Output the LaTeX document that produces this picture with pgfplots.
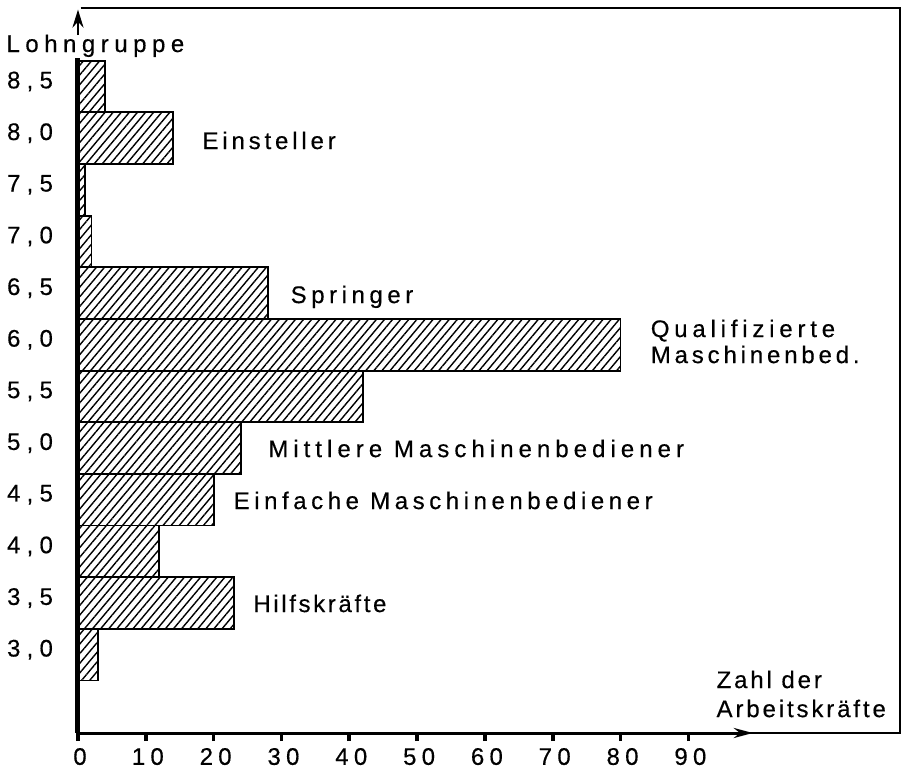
\documentclass[border=0pt]{standalone}
\usepackage{fontspec}
\setmainfont{Liberation Sans}[FakeBold=0.4]
\usepackage{pgfplots}
\pgfplotsset{compat=1.18}
\usetikzlibrary{patterns.meta,arrows.meta}
\newcommand\LS[2]{{\addfontfeature{LetterSpace=#1}#2}}
\begin{document}
\begin{tikzpicture}
\begin{axis}[
  width=411pt, height=362.5pt, scale only axis,
  xmin=0, xmax=121.2, ymin=2.242, ymax=9.26,
  axis x line*=bottom, axis y line*=left,
  axis line style={draw=none},
  clip=false,
  xtick={0,10,20,30,40,50,60,70,80,90},
  xticklabels={0,10,20,30,40,50,60,70,80,90},
  ytick={3,3.5,4,4.5,5,5.5,6,6.5,7,7.5,8,8.5},
  yticklabels={{3,0},{3,5},{4,0},{4,5},{5,0},{5,5},{6,0},{6,5},{7,0},{7,5},{8,0},{8,5}},
  xticklabel style={font=\fontsize{12}{14}\selectfont\addfontfeature{LetterSpace=22}, yshift=0pt, xshift=1pt},
  yticklabel style={font=\fontsize{12}{14}\selectfont\addfontfeature{LetterSpace=26}, yshift=2.5pt, xshift=-5pt},
  x tick style={line width=1.8pt, black},
  y tick style={draw=none},
  major tick length=4pt, tick align=outside,
  /pgf/number format/assume math mode=true,
]
\addplot[xbar, bar width=0.5, bar shift=0pt, draw=black, line width=0.9pt,
  pattern={Lines[angle=50,distance=3.1pt,line width=0.7pt]}]
  coordinates {(3,3) (23,3.5) (12,4) (20,4.5) (24,5) (42,5.5) (80,6) (28,6.5) (2,7) (1,7.5) (14,8) (4,8.5)};
% axes and frame
\draw[line width=2.5pt] (axis cs:0,2.242) -- (axis cs:0,8.776);
\draw[line width=1.4pt, -{Stealth[length=9pt,width=5.5pt]}] (axis cs:0,8.998) -- (axis cs:0,9.245);
\draw[line width=1.5pt, -{Stealth[length=9.5pt,width=5pt]}] (axis cs:0,2.242) -- (axis cs:99.5,2.242);
\draw[line width=0.8pt] (axis cs:0.4,9.26) -- (axis cs:121.2,9.26) -- (axis cs:121.2,2.242) -- (axis cs:98,2.242);
% labels
\tikzset{lab/.style={anchor=base west, font=\fontsize{12}{14}\selectfont, inner sep=0pt}}
\node[lab] at (axis cs:-10.6,8.834) {\LS{23}{Lohngruppe}};
\node[lab] at (axis cs:18.3,7.895) {\LS{16}{Einsteller}};
\node[lab] at (axis cs:31.3,6.404) {\LS{19}{Springer}};
\node[lab] at (axis cs:84.4,6.075) {\LS{20}{Qualifizierte}};
\node[lab] at (axis cs:84.4,5.823) {\LS{16}{Maschinenbed.}};
\node[lab] at (axis cs:28.0,4.913) {\LS{21}{Mittlere Maschinenbediener}};
\node[lab] at (axis cs:22.9,4.410) {\LS{19}{Einfache Maschinenbediener}};
\node[lab] at (axis cs:25.8,3.413) {\LS{11}{Hilfskräfte}};
\node[lab] at (axis cs:94.1,2.677) {\LS{12}{Zahl der}};
\node[lab] at (axis cs:94.1,2.396) {\LS{12}{Arbeitskräfte}};
\coordinate (O) at (rel axis cs:0,0);
\end{axis}
\pgfresetboundingbox
\path[use as bounding box] (O) ++(-39pt,-17.5pt) rectangle ++(451pt,384pt);
\end{tikzpicture}
\end{document}
